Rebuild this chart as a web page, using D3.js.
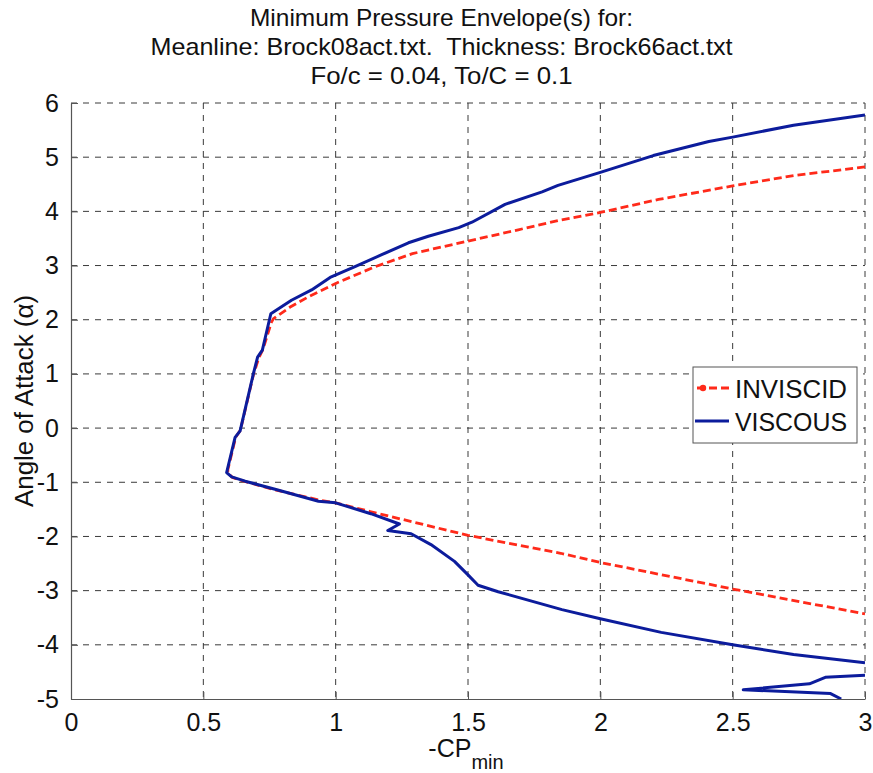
<!DOCTYPE html>
<html>
<head>
<meta charset="utf-8">
<script src="https://cdn.jsdelivr.net/npm/d3@7"></script>
<style>
  html, body { margin: 0; padding: 0; background: #fff; }
  svg { display: block; font-family: "Liberation Sans", Arial, sans-serif; }
</style>
</head>
<body>
<svg id="chart" width="873" height="773"></svg>
<script>
// Inviscid envelope: -Cp_min vs angle of attack
const cpInviscid = [3.0, 2.73, 2.5, 2.22, 2.0, 1.85, 1.69, 1.49, 1.29, 1.15, 1.0, 0.9, 0.83, 0.765, 0.757, 0.725, 0.71, 0.69, 0.64, 0.622, 0.593, 0.592, 0.61, 0.66, 0.77, 0.94, 1.0, 1.13, 1.5, 1.85, 2.0, 2.5, 3.0];
const alphaInviscid = [4.82, 4.66, 4.47, 4.22, 3.98, 3.84, 3.66, 3.44, 3.22, 2.98, 2.67, 2.43, 2.24, 2.02, 1.95, 1.45, 1.3, 1.0, -0.04, -0.17, -0.76, -0.83, -0.91, -0.99, -1.14, -1.33, -1.38, -1.54, -1.98, -2.31, -2.48, -2.97, -3.43];

// Viscous envelope: main branch
const cpViscous = [3.0, 2.73, 2.5, 2.41, 2.2, 2.0, 1.84, 1.78, 1.64, 1.515, 1.465, 1.35, 1.275, 1.174, 1.073, 0.979, 0.909, 0.833, 0.755, 0.723, 0.705, 0.689, 0.639, 0.62, 0.591, 0.588, 0.607, 0.658, 0.771, 0.935, 1.0, 1.133, 1.241, 1.197, 1.285, 1.36, 1.449, 1.5, 1.538, 1.614, 1.855, 2.0, 2.23, 2.5, 2.73, 3.0];
const alphaViscous = [5.78, 5.59, 5.37, 5.29, 5.03, 4.72, 4.48, 4.36, 4.13, 3.8, 3.7, 3.54, 3.42, 3.2, 2.98, 2.78, 2.55, 2.36, 2.11, 1.44, 1.31, 1.0, -0.05, -0.17, -0.76, -0.82, -0.9, -0.98, -1.13, -1.35, -1.38, -1.58, -1.77, -1.89, -1.95, -2.15, -2.46, -2.71, -2.9, -3.02, -3.35, -3.52, -3.77, -4.0, -4.18, -4.33];

// Viscous envelope: high-Cp tail near the bottom edge
const cpViscousTail = [3.0, 2.85, 2.79, 2.54, 2.87, 2.91];
const alphaViscousTail = [-4.56, -4.6, -4.72, -4.83, -4.9, -5.0];

const xTickValues = [0, 0.5, 1, 1.5, 2, 2.5, 3];
const xTickLabels = ["0", "0.5", "1", "1.5", "2", "2.5", "3"];
const yTickValues = [-5, -4, -3, -2, -1, 0, 1, 2, 3, 4, 5, 6];
const yTickLabels = ["-5", "-4", "-3", "-2", "-1", "0", "1", "2", "3", "4", "5", "6"];

const titleLines = [
  "Minimum Pressure Envelope(s) for:",
  "Meanline: Brock08act.txt.  Thickness: Brock66act.txt",
  "Fo/c = 0.04, To/C = 0.1"
];
const legendLabels = ["INVISCID", "VISCOUS"];

const svg = d3.select("#chart");
const W = 873, H = 773;
const plot = { left: 71, right: 865, top: 103, bottom: 699 };

const x = d3.scaleLinear().domain([0, 3]).range([plot.left, plot.right]);
const y = d3.scaleLinear().domain([-5, 6]).range([plot.bottom, plot.top]);

const gridColor = "#3a3a3a";
const inviscidColor = "#ff2a1a";
const viscousColor = "#0c1c9c";
const fontFamily = "'Liberation Sans', Arial, sans-serif";

// Grid lines (dashed)
const grid = svg.append("g").attr("class", "grid");
grid.selectAll("line.gx").data(xTickValues.filter(v => v > 0)).join("line")
  .attr("x1", d => x(d)).attr("x2", d => x(d))
  .attr("y1", plot.top).attr("y2", plot.bottom)
  .attr("stroke", gridColor).attr("stroke-width", 1)
  .attr("stroke-dasharray", "6,6");
grid.selectAll("line.gy").data(yTickValues.filter(v => v > -5)).join("line")
  .attr("x1", plot.left).attr("x2", plot.right)
  .attr("y1", d => y(d)).attr("y2", d => y(d))
  .attr("stroke", gridColor).attr("stroke-width", 1)
  .attr("stroke-dasharray", "6,6");

// Axes with inward ticks
const xAxis = d3.axisBottom(x).tickValues(xTickValues)
  .tickFormat((d, i) => xTickLabels[i]).tickSizeInner(-7).tickSizeOuter(0).tickPadding(14);
const yAxis = d3.axisLeft(y).tickValues(yTickValues)
  .tickFormat((d, i) => yTickLabels[i]).tickSizeInner(-7).tickSizeOuter(0).tickPadding(12);

const gx = svg.append("g").attr("transform", `translate(0,${plot.bottom})`).call(xAxis);
const gy = svg.append("g").attr("transform", `translate(${plot.left},0)`).call(yAxis);
[gx, gy].forEach(g => {
  g.select(".domain").attr("stroke", "#555").attr("stroke-width", 1.2);
  g.selectAll(".tick line").attr("stroke", "#555");
  g.selectAll(".tick text").attr("fill", "#111")
    .style("font-family", fontFamily).style("font-size", "25px");
});

// Clip for data lines
svg.append("clipPath").attr("id", "plotClip").append("rect")
  .attr("x", plot.left).attr("y", plot.top)
  .attr("width", plot.right - plot.left).attr("height", plot.bottom - plot.top);

const line = d3.line().x(d => x(d[0])).y(d => y(d[1]));
const zip = (a, b) => a.map((v, i) => [v, b[i]]);

const lines = svg.append("g").attr("clip-path", "url(#plotClip)");
lines.append("path").datum(zip(cpInviscid, alphaInviscid))
  .attr("d", line).attr("fill", "none")
  .attr("stroke", inviscidColor).attr("stroke-width", 2.8)
  .attr("stroke-dasharray", "8,4");
lines.append("path").datum(zip(cpViscous, alphaViscous))
  .attr("d", line).attr("fill", "none")
  .attr("stroke", viscousColor).attr("stroke-width", 3)
  .attr("stroke-linejoin", "round");
lines.append("path").datum(zip(cpViscousTail, alphaViscousTail))
  .attr("d", line).attr("fill", "none")
  .attr("stroke", viscousColor).attr("stroke-width", 3)
  .attr("stroke-linejoin", "round");

// Title (keep the double space in the second line)
const titleWidths = [383, 582, 262];
svg.append("g").selectAll("text").data(titleLines).join("text")
  .attr("x", W / 2 + 5).attr("y", (d, i) => 26 + i * 29)
  .attr("text-anchor", "middle")
  .attr("textLength", (d, i) => titleWidths[i])
  .attr("lengthAdjust", "spacingAndGlyphs")
  .style("white-space", "pre")
  .style("font-size", "24px").attr("fill", "#111")
  .text(d => d);

// Axis labels
svg.append("text")
  .attr("transform", `translate(33,${(plot.top + plot.bottom) / 2}) rotate(-90)`)
  .attr("text-anchor", "middle")
  .attr("textLength", 212).attr("lengthAdjust", "spacingAndGlyphs")
  .style("font-size", "25px").attr("fill", "#111")
  .text("Angle of Attack (α)");

const xl = svg.append("text")
  .attr("x", (plot.left + plot.right) / 2 - 2).attr("y", 757)
  .attr("text-anchor", "middle")
  .style("font-size", "25px").attr("fill", "#111");
xl.append("tspan").text("-CP");
xl.append("tspan").attr("dy", 12).style("font-size", "20px").text("min");

// Legend
const lg = svg.append("g");
lg.append("rect").attr("x", 693).attr("y", 367).attr("width", 164).attr("height", 76)
  .attr("fill", "#fff").attr("stroke", "#555").attr("stroke-width", 1);
lg.append("line").attr("x1", 697).attr("x2", 729).attr("y1", 388).attr("y2", 388)
  .attr("stroke", inviscidColor).attr("stroke-width", 2.8).attr("stroke-dasharray", "8,4");
lg.append("circle").attr("cx", 703).attr("cy", 388).attr("r", 3.2).attr("fill", inviscidColor);
lg.append("line").attr("x1", 695).attr("x2", 729).attr("y1", 421).attr("y2", 421)
  .attr("stroke", viscousColor).attr("stroke-width", 3);
lg.selectAll("text").data(legendLabels).join("text")
  .attr("x", 735).attr("y", (d, i) => 398 + i * 33)
  .attr("textLength", 112).attr("lengthAdjust", "spacingAndGlyphs")
  .style("font-size", "25px").attr("fill", "#111")
  .text(d => d);
</script>
</body>
</html>
